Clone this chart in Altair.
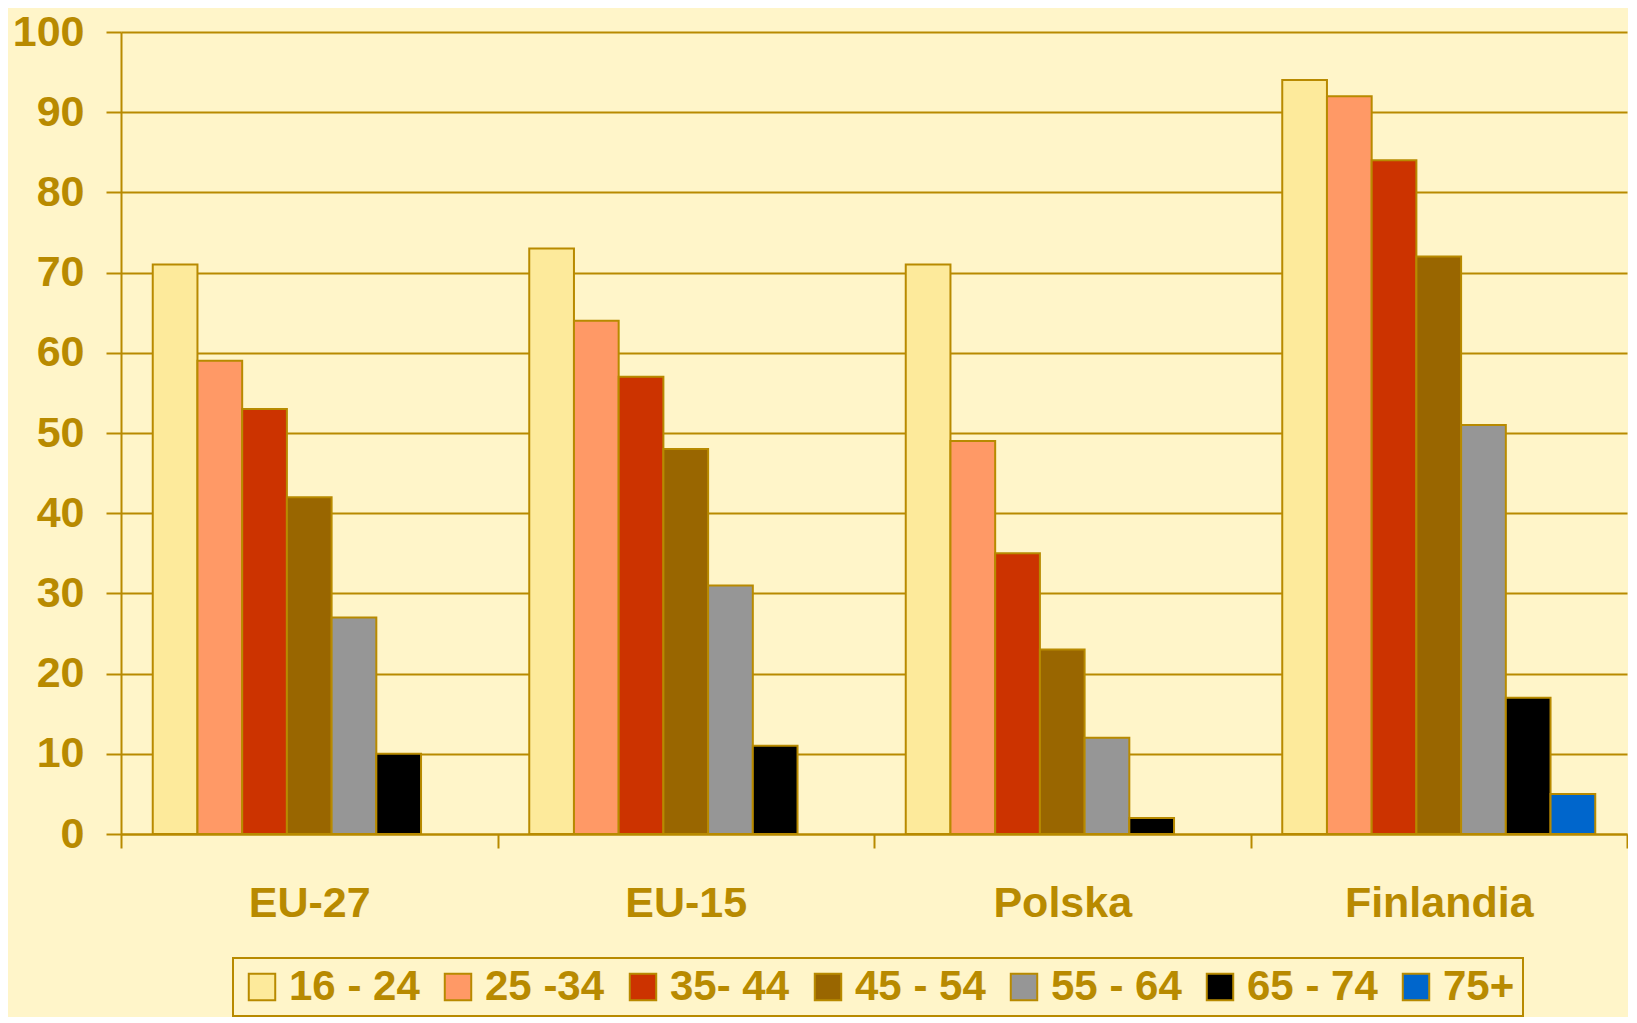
import altair as alt
import pandas as pd

regions = ["EU-27", "EU-15", "Polska", "Finlandia"]
age_groups = ["16 - 24", "25 -34", "35- 44", "45 - 54", "55 - 64", "65 - 74", "75+"]
colors = ["#FDEA9B", "#FF9966", "#CC3300", "#996600", "#969696", "#000000", "#0066CC"]

eu27 = [71, 59, 53, 42, 27, 10, None]
eu15 = [73, 64, 57, 48, 31, 11, None]
polska = [71, 49, 35, 23, 12, 2, None]
finlandia = [94, 92, 84, 72, 51, 17, 5]

rows = []
for reg, vals in zip(regions, [eu27, eu15, polska, finlandia]):
    for age, v in zip(age_groups, vals):
        if v is not None:
            rows.append({"region": reg, "age": age, "value": v})
df = pd.DataFrame(rows)

gold = "#B88A00"
bg = "#FFF5C9"
font = "Liberation Sans"

chart = alt.Chart(df).mark_bar(stroke=gold, strokeWidth=2).encode(
    x=alt.X(
        "region:N", sort=regions,
        scale=alt.Scale(domain=regions, paddingInner=0, paddingOuter=0),
        axis=alt.Axis(
            title=None, labelAngle=0, tickBand="extent", tickSize=14,
            labelPadding=34, labelFontSize=43, labelFont=font, labelFontWeight="bold",
            labelColor=gold, domainColor=gold, tickColor=gold, domainWidth=2,
            tickWidth=2, grid=False, labelBaseline="top", labelLimit=500,
        ),
    ),
    xOffset=alt.XOffset(
        "age:N", sort=age_groups,
        scale=alt.Scale(domain=age_groups, paddingInner=0, paddingOuter=0.71),
    ),
    y=alt.Y(
        "value:Q",
        scale=alt.Scale(domain=[0, 100], nice=False),
        axis=alt.Axis(
            values=list(range(0, 101, 10)), title=None, tickSize=15, labelPadding=22,
            labelFontSize=43, labelFont=font, labelFontWeight="bold", labelColor=gold,
            domainColor=gold, domainWidth=2, tickColor=gold, tickWidth=2,
            grid=True, gridColor=gold, gridWidth=2,
        ),
    ),
    color=alt.Color(
        "age:N", sort=age_groups,
        scale=alt.Scale(domain=age_groups, range=colors),
        legend=alt.Legend(
            title=None, orient="none", legendX=112, legendY=926,
            direction="horizontal", columns=7, symbolType="square", symbolSize=700,
            symbolStrokeColor=gold, symbolStrokeWidth=2, labelFontSize=42,
            labelFont=font, labelFontWeight="bold", labelColor=gold,
            labelOffset=6, columnPadding=17, padding=8, labelLimit=400,
        ),
    ),
).properties(
    width=1506, height=802,
    background=bg,
    padding={"left": 4, "top": 3, "right": 0, "bottom": 0},
).configure_view(stroke=None).configure_legend(strokeColor=gold, strokeWidth=2)

chart.save("out.html", embed_options={"renderer": "svg", "actions": False})
